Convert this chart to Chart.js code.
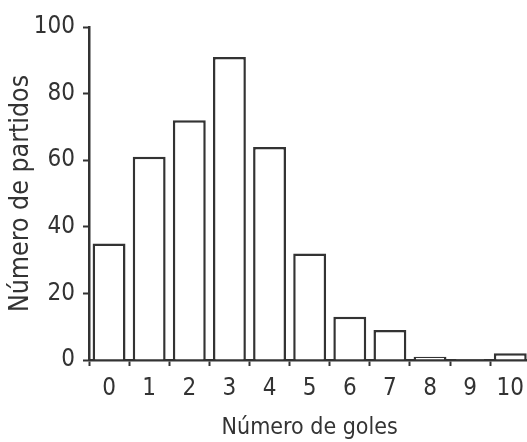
<html>
<head>
    <script src="https://cdn.jsdelivr.net/npm/chart.js"></script>
    <style>
        body { margin: 0; overflow: hidden; background: #fff; }
        #box { width: 532px; height: 442px; }
    </style>
</head>
<body>
    <div id="box"><canvas id="goles"></canvas></div>

    <script>
        // datos
        var goles = ['0', '1', '2', '3', '4', '5', '6', '7', '8', '9', '10'];
        var partidos = [35, 61, 72, 91, 64, 32, 13, 9, 1, 0.3, 2];
        var yTicks = [0, 20, 40, 60, 80, 100];

        var ink = '#333333';
        var font = "'Liberation Sans Narrow', 'Arial Narrow', 'DejaVu Sans Condensed', 'Roboto Condensed', 'DejaVu Sans', sans-serif";

        var ctx = document.getElementById('goles').getContext('2d');
        var chart = new Chart(ctx, {
            type: 'bar',
            data: {
                labels: goles,
                datasets: [{
                    label: 'Partidos',
                    data: partidos,
                    backgroundColor: '#ffffff',
                    borderColor: ink,
                    borderWidth: 2.5,
                    borderSkipped: 'start',
                    barPercentage: 0.82,
                    categoryPercentage: 1.0
                }]
            },
            options: {
                responsive: true,
                maintainAspectRatio: false,
                animation: false,
                layout: { padding: { top: 27, right: 0, left: 0, bottom: 0 } },
                plugins: {
                    legend: { display: false },
                    tooltip: { enabled: false }
                },
                scales: {
                    x: {
                        grid: { display: true, drawOnChartArea: false, tickLength: 6, tickColor: ink, tickWidth: 2 },
                        border: { display: true, color: ink, width: 2.5 },
                        ticks: { color: ink, font: { family: font, size: 24, style: 'condensed' }, padding: 8, maxRotation: 0 },
                        title: { display: true, text: 'Número de goles', color: ink, font: { family: font, size: 23, style: 'condensed' }, padding: { top: 0, bottom: 0 } },
                        afterFit: function(s) { s.height = 82; }
                    },
                    y: {
                        min: 0,
                        max: 100,
                        afterBuildTicks: function(s) { s.ticks = yTicks.map(v => ({ value: v })); },
                        grid: { display: true, drawOnChartArea: false, tickLength: 6, tickColor: ink, tickWidth: 2 },
                        border: { display: true, color: ink, width: 2.5 },
                        ticks: { color: ink, font: { family: font, size: 24, style: 'condensed' }, padding: 8 },
                        title: { display: true, text: 'Número de partidos', color: ink, font: { family: font, size: 26.5, style: 'condensed' }, padding: { top: 5, bottom: 0 } },
                        afterFit: function(s) { s.width = 89; }
                    }
                }
            }
        });
    </script>
</body>
</html>
